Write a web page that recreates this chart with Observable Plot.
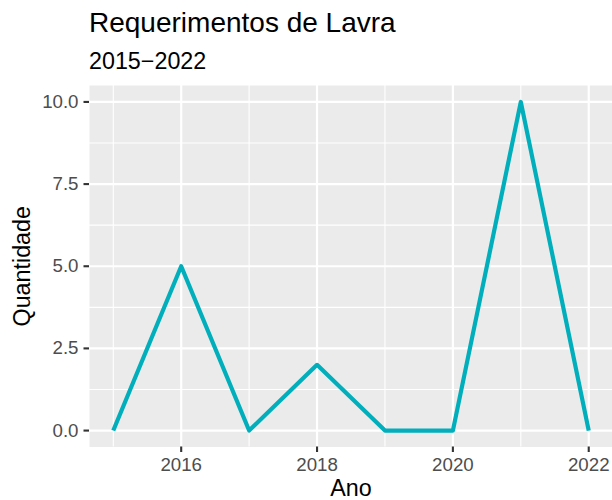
<!DOCTYPE html>
<html>
<head>
<meta charset="utf-8">
<script src="https://cdn.jsdelivr.net/npm/d3@7"></script>
<script src="https://cdn.jsdelivr.net/npm/@observablehq/plot@0.6"></script>
<style>
  html, body { margin: 0; padding: 0; background: #ffffff; }
  #chart { position: relative; width: 612px; height: 500px; overflow: hidden; font-family: "Liberation Sans", Arial, sans-serif; }
  #chart svg { position: absolute; left: 0; top: 0; }
  .title { position: absolute; left: 89px; top: 9px; font-size: 28px; line-height: 28px; color: #000; white-space: nowrap; }
  .subtitle { position: absolute; left: 89px; top: 49.5px; font-size: 23.3px; line-height: 23.3px; color: #000; white-space: nowrap; }
</style>
</head>
<body>
<div id="chart">
  <div class="title">Requerimentos de Lavra</div>
  <div class="subtitle">2015−2022</div>
</div>
<script>
const anos = [2015, 2016, 2017, 2018, 2019, 2020, 2021, 2022];
const quantidade = [0, 5, 0, 2, 0, 0, 10, 0];
const xMajor = [2016, 2018, 2020, 2022];
const xMinor = [2015, 2017, 2019, 2021];
const yMajor = [0, 2.5, 5, 7.5, 10];
const yMinor = [1.25, 3.75, 6.25, 8.75];

const data = anos.map((a, i) => ({ano: a, q: quantidade[i]}));

const tickFont = 18.7;
const titleFont = 23.3;

const plot = Plot.plot({
  width: 612,
  height: 500,
  marginLeft: 89,
  marginRight: 0,
  marginTop: 85,
  marginBottom: 53.5,
  style: { fontFamily: "'Liberation Sans', Arial, sans-serif", background: "transparent", overflow: "visible" },
  x: { domain: [2014.65, 2022.35], axis: null },
  y: { domain: [-0.5, 10.5], axis: null },
  marks: [
    Plot.frame({ fill: "#EBEBEB", stroke: null }),
    Plot.ruleX(xMinor, { stroke: "#ffffff", strokeWidth: 1.1 }),
    Plot.ruleY(yMinor, { stroke: "#ffffff", strokeWidth: 1.1 }),
    Plot.ruleX(xMajor, { stroke: "#ffffff", strokeWidth: 2.2 }),
    Plot.ruleY(yMajor, { stroke: "#ffffff", strokeWidth: 2.2 }),
    Plot.line(data, { x: "ano", y: "q", stroke: "#00AFBB", strokeWidth: 4.2, strokeLinejoin: "round", strokeLinecap: "butt" }),
    Plot.axisX({ ticks: xMajor, tickSize: 5.5, tickPadding: 5, tickFormat: d => String(d), stroke: "#333333", fill: "#4D4D4D", strokeWidth: 2.1, fontSize: tickFont, label: null }),
    Plot.axisY({ ticks: yMajor, tickSize: 5.5, tickPadding: 5.5, tickFormat: d => d.toFixed(1), stroke: "#333333", fill: "#4D4D4D", strokeWidth: 2.1, fontSize: tickFont, label: null }),
    Plot.text(["Ano"], { frameAnchor: "bottom", textAnchor: "middle", lineAnchor: "middle", dy: 41.5, fontSize: titleFont, fill: "#000000" }),
    Plot.text(["Quantidade"], { frameAnchor: "left", textAnchor: "middle", lineAnchor: "middle", rotate: -90, dx: -67, fontSize: titleFont, fill: "#000000" })
  ]
});

document.getElementById("chart").appendChild(plot);
</script>
</body>
</html>
